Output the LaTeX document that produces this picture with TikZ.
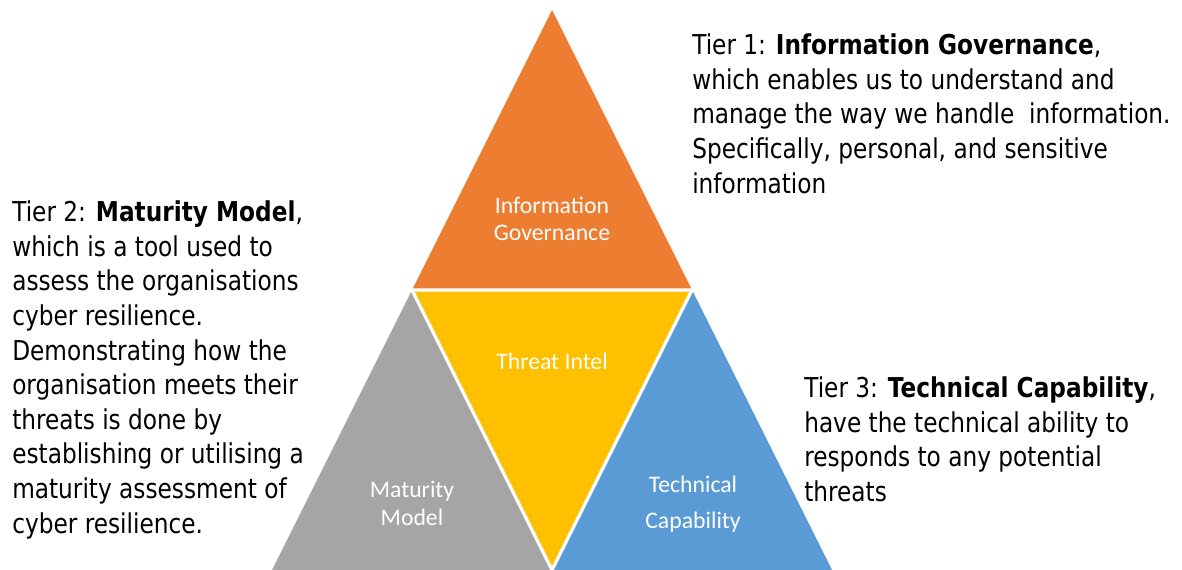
\documentclass[tikz,border=0pt]{standalone}
\usepackage{fontspec}
\setmainfont{DejaVu Sans}[FakeStretch=0.85]
\newfontfamily\calib{Carlito}
\definecolor{igorange}{HTML}{ED7D31}
\definecolor{tiyellow}{HTML}{FFC000}
\definecolor{mmgrey}{HTML}{A5A5A5}
\definecolor{tcblue}{HTML}{5B9BD5}
\tikzset{
  tri label/.style={text=white, inner sep=0pt, align=center, anchor=base},
  tier text/.style={text=black, inner sep=0pt, align=left, anchor=base west,
    font=\fontsize{20.5}{25.95}\selectfont},
}
\begin{document}
\begin{tikzpicture}[x=0.75pt,y=-0.75pt]
\useasboundingbox (0,0) rectangle (1182,570);
% pyramid pieces
\coordinate (apex) at (552,10);
\coordinate (ml) at (412,290);
\coordinate (mr) at (692,290);
\coordinate (bl) at (272,570);
\coordinate (bc) at (552,570);
\coordinate (br) at (832,570);
\fill[igorange] (apex) -- (ml) -- (mr) -- cycle;
\fill[mmgrey] (ml) -- (bl) -- (bc) -- cycle;
\fill[tcblue] (mr) -- (bc) -- (br) -- cycle;
\fill[tiyellow] (ml) -- (mr) -- (bc) -- cycle;
\draw[white, line width=2.4pt, line join=round] (ml) -- (mr) -- (bc) -- cycle;
% labels in triangles (anchor = baseline of last line)
\node[tri label, font=\calib\fontsize{17.8}{20.25}\selectfont] (ig) at (552,241) {Information\\Governance};
\node[tri label, font=\calib\fontsize{17.8}{20.25}\selectfont] (ti) at (552,369) {Threat Intel};
\node[tri label, font=\calib\fontsize{17.8}{21}\selectfont] (mm) at (412,525) {Maturity\\Model};
\node[tri label, font=\calib\fontsize{17.8}{27}\selectfont] (tc) at (693,528) {Technical\\Capability};
% tier texts (anchor = baseline of last line)
\node[tier text] (t1) at (692,193.1) {Tier 1: \textbf{Information Governance},\\which enables us to understand and\\manage the way we handle\ \ information.\\Specifically, personal, and sensitive\\information};
\node[tier text] (t2) at (12,533.1) {Tier 2: \textbf{Maturity Model},\\which is a tool used to\\assess the organisations\\cyber resilience.\\Demonstrating how the\\organisation meets their\\threats is done by\\establishing or utilising a\\maturity assessment of\\cyber resilience.};
\node[tier text] (t3) at (804,501.3) {Tier 3: \textbf{Technical Capability},\\have the technical ability to\\responds to any potential\\threats};
\end{tikzpicture}
\end{document}
